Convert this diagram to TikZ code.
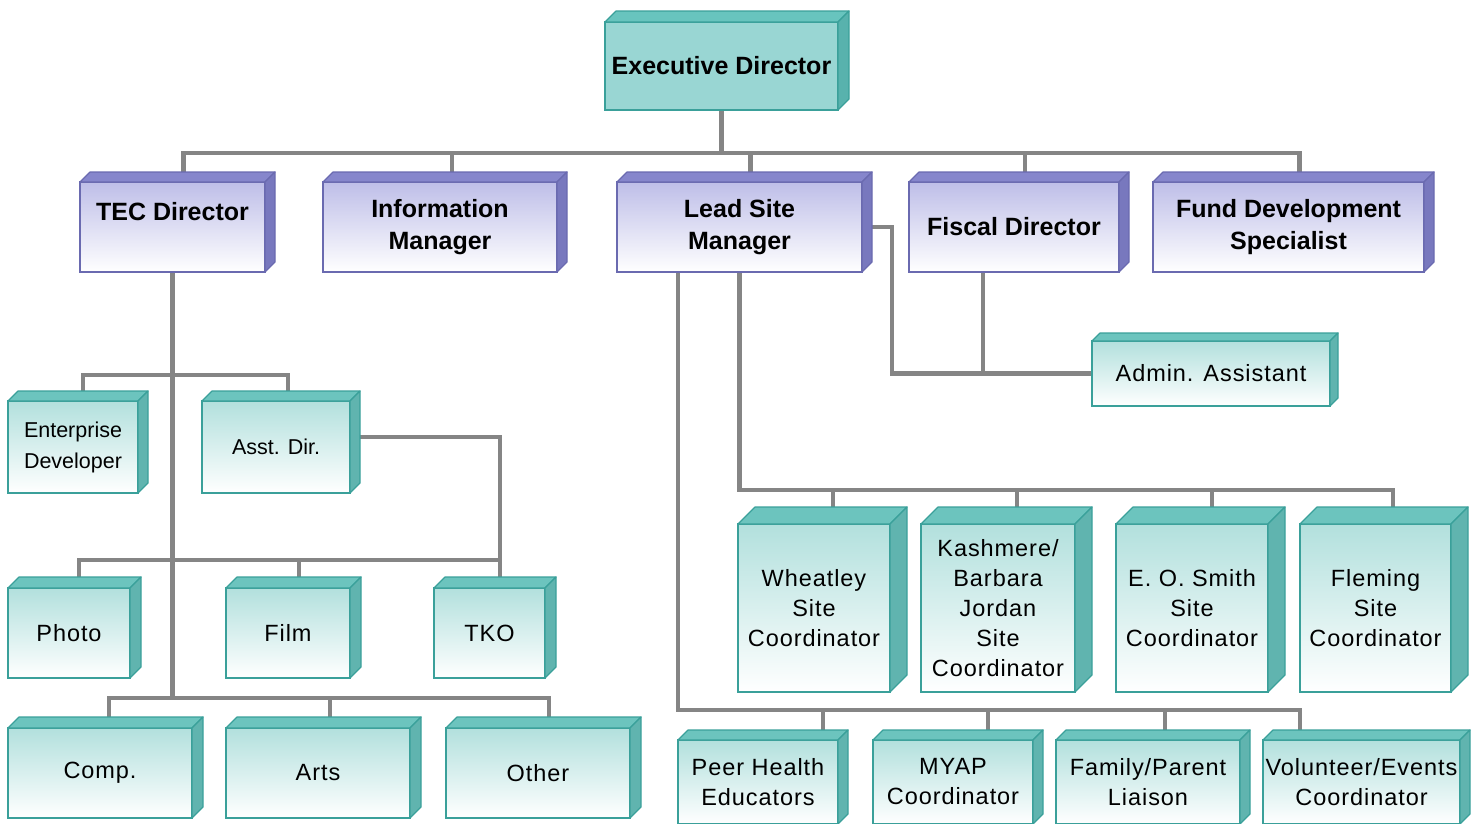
\documentclass[tikz,border=0pt]{standalone}
\usepackage{fontspec}
\setmainfont{Liberation Sans}
\newfontfamily\staffFont[LetterSpace=4]{Liberation Sans}
\usepackage{xcolor}
\usepackage{tikz}
\usetikzlibrary{backgrounds}

\definecolor{lineGray}{RGB}{133,133,133}
\definecolor{execFront}{RGB}{153,214,211}
\definecolor{execTopFill}{RGB}{104,196,190}
\definecolor{execSideFill}{RGB}{88,178,173}
\definecolor{tealLine}{RGB}{58,160,154}
\definecolor{tealFront}{RGB}{178,224,221}
\definecolor{tealTopFill}{RGB}{108,196,190}
\definecolor{tealSideFill}{RGB}{96,180,175}
\definecolor{purpleLine}{RGB}{106,106,176}
\definecolor{purpleFront}{RGB}{190,190,232}
\definecolor{purpleTopFill}{RGB}{134,134,204}
\definecolor{purpleSideFill}{RGB}{120,120,190}

\begin{document}
\begin{tikzpicture}[
		link/.style = { draw = lineGray, line width = 4.5pt },
		execBox/.style = { rectangle, fill = execFront, draw = tealLine, line width = 1.2pt, text = black, align = center, inner sep = 0pt, outer sep = 0pt, font = \fontsize{25}{32}\selectfont\bfseries },
		headBox/.style = { rectangle, top color = purpleFront, bottom color = white, draw = purpleLine, line width = 1.2pt, text = black, align = center, inner sep = 0pt, outer sep = 0pt, minimum height = 90pt, font = \fontsize{25}{32}\selectfont\bfseries },
		staffBox/.style = { rectangle, top color = tealFront, bottom color = white, draw = tealLine, line width = 1.2pt, text = black, align = center, inner sep = 0pt, outer sep = 0pt, font = \staffFont\fontsize{23.5}{30}\selectfont },
		narrowBox/.style = { staffBox, font = \fontsize{21.5}{31}\selectfont },
		execTop/.style = { fill = execTopFill, draw = tealLine, line width = 1.2pt, line join = round },
		execSide/.style = { fill = execSideFill, draw = tealLine, line width = 1.2pt, line join = round },
		tealTop/.style = { fill = tealTopFill, draw = tealLine, line width = 1.2pt, line join = round },
		tealSide/.style = { fill = tealSideFill, draw = tealLine, line width = 1.2pt, line join = round },
		purpleTop/.style = { fill = purpleTopFill, draw = purpleLine, line width = 1.2pt, line join = round },
		purpleSide/.style = { fill = purpleSideFill, draw = purpleLine, line width = 1.2pt, line join = round },
		]
		\def\oneUnit{1pt}
		% top and right faces of a box
		\def\sides#1#2#3{%
			\filldraw[#3Top] (#1.north west) -- ++(#2pt,#2pt) -- ([shift={(#2pt,#2pt)}]#1.north east) -- (#1.north east) -- cycle;
			\filldraw[#3Side] (#1.north east) -- ++(#2pt,#2pt) -- ([shift={(#2pt,#2pt)}]#1.south east) -- (#1.south east) -- cycle;
		}
		
		\useasboundingbox (0,0) rectangle (1478*\oneUnit,-823*\oneUnit);
		
		\node[execBox, minimum width = 233*\oneUnit, minimum height = 88*\oneUnit] (EXECbox) at (721.5*\oneUnit,-66*\oneUnit) {Executive Director};
		\sides{EXECbox}{11}{exec}
		
		
		
		\node[headBox, minimum width = 185*\oneUnit] (TECbox) at (172.5*\oneUnit,-227*\oneUnit) {TEC Director\\\mbox{}};
		\sides{TECbox}{10}{purple}
		\node[headBox, minimum width = 234*\oneUnit] (INFObox) at (440*\oneUnit,-227*\oneUnit) {Information\\Manager};
		\sides{INFObox}{10}{purple}
		\node[headBox, minimum width = 245*\oneUnit] (LEADbox) at (739.5*\oneUnit,-227*\oneUnit) {Lead Site\\Manager};
		\sides{LEADbox}{10}{purple}
		\node[headBox, minimum width = 210*\oneUnit] (FISCALbox) at (1014*\oneUnit,-227*\oneUnit) {Fiscal Director};
		\sides{FISCALbox}{10}{purple}
		\node[headBox, minimum width = 271*\oneUnit] (FUNDbox) at (1288.5*\oneUnit,-227*\oneUnit) {Fund Development\\Specialist};
		\sides{FUNDbox}{10}{purple}
		
		
		
		\node[staffBox, minimum width = 238*\oneUnit, minimum height = 65*\oneUnit] (ADMINbox) at (1211*\oneUnit,-373.5*\oneUnit) {Admin. Assistant};
		\sides{ADMINbox}{8}{teal}
		
		
		
		\node[narrowBox, minimum width = 130*\oneUnit, minimum height = 92*\oneUnit] (ENTERbox) at (73*\oneUnit,-447*\oneUnit) {Enterprise\\Developer};
		\sides{ENTERbox}{10}{teal}
		\node[narrowBox, minimum width = 148*\oneUnit, minimum height = 92*\oneUnit] (ASSTbox) at (276*\oneUnit,-447*\oneUnit) {Asst. Dir.};
		\sides{ASSTbox}{10}{teal}
		
		\node[staffBox, minimum width = 122*\oneUnit, minimum height = 90*\oneUnit] (PHOTObox) at (69*\oneUnit,-633*\oneUnit) {Photo};
		\sides{PHOTObox}{11}{teal}
		\node[staffBox, minimum width = 124*\oneUnit, minimum height = 90*\oneUnit] (FILMbox) at (288*\oneUnit,-633*\oneUnit) {Film};
		\sides{FILMbox}{11}{teal}
		\node[staffBox, minimum width = 111*\oneUnit, minimum height = 90*\oneUnit] (TKObox) at (489.5*\oneUnit,-633*\oneUnit) {TKO};
		\sides{TKObox}{11}{teal}
		
		\node[staffBox, minimum width = 184*\oneUnit, minimum height = 90*\oneUnit] (COMPbox) at (100*\oneUnit,-773*\oneUnit) {Comp.};
		\sides{COMPbox}{11}{teal}
		\node[staffBox, minimum width = 184*\oneUnit, minimum height = 90*\oneUnit] (ARTSbox) at (318*\oneUnit,-773*\oneUnit) {Arts};
		\sides{ARTSbox}{11}{teal}
		\node[staffBox, minimum width = 184*\oneUnit, minimum height = 90*\oneUnit] (OTHERbox) at (538*\oneUnit,-773*\oneUnit) {Other};
		\sides{OTHERbox}{11}{teal}
		
		
		
		\node[staffBox, minimum width = 152*\oneUnit, minimum height = 168*\oneUnit] (WHEATbox) at (814*\oneUnit,-608*\oneUnit) {Wheatley\\Site\\Coordinator};
		\sides{WHEATbox}{17}{teal}
		\node[staffBox, minimum width = 154*\oneUnit, minimum height = 168*\oneUnit] (KASHbox) at (998*\oneUnit,-608*\oneUnit) {Kashmere/\\Barbara\\Jordan\\Site\\Coordinator};
		\sides{KASHbox}{17}{teal}
		\node[staffBox, minimum width = 152*\oneUnit, minimum height = 168*\oneUnit] (SMITHbox) at (1192*\oneUnit,-608*\oneUnit) {E. O. Smith\\Site\\Coordinator};
		\sides{SMITHbox}{17}{teal}
		\node[staffBox, minimum width = 151*\oneUnit, minimum height = 168*\oneUnit] (FLEMbox) at (1375.5*\oneUnit,-608*\oneUnit) {Fleming\\Site\\Coordinator};
		\sides{FLEMbox}{17}{teal}
		
		\node[staffBox, minimum width = 160*\oneUnit, minimum height = 84*\oneUnit] (PEERbox) at (758*\oneUnit,-782*\oneUnit) {Peer Health\\Educators};
		\sides{PEERbox}{10}{teal}
		\node[staffBox, minimum width = 160*\oneUnit, minimum height = 84*\oneUnit] (MYAPbox) at (953*\oneUnit,-782*\oneUnit) {MYAP\\Coordinator};
		\sides{MYAPbox}{10}{teal}
		\node[staffBox, minimum width = 184*\oneUnit, minimum height = 84*\oneUnit] (FAMILYbox) at (1148*\oneUnit,-782*\oneUnit) {Family/Parent\\Liaison};
		\sides{FAMILYbox}{10}{teal}
		\node[staffBox, minimum width = 197*\oneUnit, minimum height = 84*\oneUnit] (VOLUNTbox) at (1361.5*\oneUnit,-782*\oneUnit) {Volunteer/Events\\Coordinator};
		\sides{VOLUNTbox}{10}{teal}
		
		
		
		\begin{scope}[on background layer]
		\draw[link] (EXECbox.south) -- ++(0,-43*\oneUnit) -| ([xshift = 11pt]TECbox.north);
		\draw[link] (EXECbox.south) -- ++(0,-43*\oneUnit) -| ([xshift = 11pt]FUNDbox.north);
		\draw[link] ([xshift = 12pt]INFObox.north) -- ++(0,29*\oneUnit);
		\draw[link] ([xshift = 11pt]LEADbox.north) -- ++(0,29*\oneUnit);
		\draw[link] ([xshift = 11pt]FISCALbox.north) -- ++(0,29*\oneUnit);
		
		\draw[link] (LEADbox.east) -- ++(30*\oneUnit,0) |- (ADMINbox.west);
		\draw[link] ([xshift = -31pt]FISCALbox.south) |- (ADMINbox.west);
		
		\draw[link] (TECbox.south) -- ++(0,-426*\oneUnit);
		\draw[link] ([xshift = 10pt]ENTERbox.north) -- ++(0,26*\oneUnit) -| ([xshift = 12pt]ASSTbox.north);
		\draw[link] ([yshift = 10pt]ASSTbox.east) -| ([xshift = 10.5pt]TKObox.north);
		\draw[link] ([xshift = 10pt]PHOTObox.north) -- ++(0,28*\oneUnit) -| ([xshift = 10.5pt]TKObox.north);
		\draw[link] ([xshift = 11pt]FILMbox.north) -- ++(0,28*\oneUnit);
		\draw[link] ([xshift = 9pt]COMPbox.north) -- ++(0,30*\oneUnit) -| ([xshift = 11pt]OTHERbox.north);
		\draw[link] ([xshift = 12pt]ARTSbox.north) -- ++(0,30*\oneUnit);
		
		\draw[link] (LEADbox.south) -- ++(0,-218*\oneUnit) -| ([xshift = 17.5pt]FLEMbox.north);
		\draw[link] ([xshift = 19pt]WHEATbox.north) -- ++(0,34*\oneUnit);
		\draw[link] ([xshift = 19pt]KASHbox.north) -- ++(0,34*\oneUnit);
		\draw[link] ([xshift = 20pt]SMITHbox.north) -- ++(0,34*\oneUnit);
		
		\draw[link] ([xshift = 61pt]LEADbox.south west) -- ++(0,-438*\oneUnit) -| ([xshift = -61.5pt]VOLUNTbox.north);
		\draw[link] ([xshift = 65pt]PEERbox.north) -- ++(0,30*\oneUnit);
		\draw[link] ([xshift = 35pt]MYAPbox.north) -- ++(0,30*\oneUnit);
		\draw[link] ([xshift = 17pt]FAMILYbox.north) -- ++(0,30*\oneUnit);
		\end{scope}
\end{tikzpicture}
\end{document}
